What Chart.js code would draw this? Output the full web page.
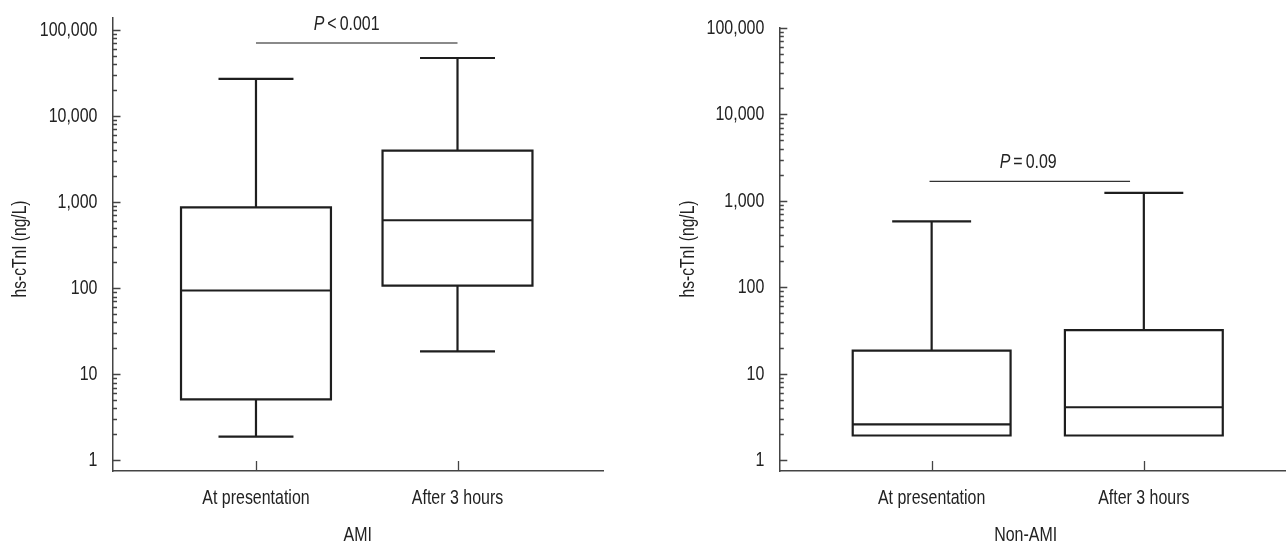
<!DOCTYPE html>
<html>
<head>
<meta charset="utf-8">
<script src="https://cdn.jsdelivr.net/npm/chart.js@4.4.1/dist/chart.umd.min.js"></script>
<style>
  html, body { margin: 0; padding: 0; background: #fff; }
  .panel { position: absolute; top: 0; height: 543px; }
  #leftWrap  { left: 0;     width: 640px; }
  #rightWrap { left: 640px; width: 646px; }
</style>
</head>
<body>
<div class="panel" id="leftWrap"><canvas id="amiChart"></canvas></div>
<div class="panel" id="rightWrap"><canvas id="nonAmiChart"></canvas></div>
<script>
// ─── Data ─────────────────────────────────────────────

const cats = ['At presentation', 'After 3 hours'];

// AMI (hs-cTnI, ng/L)
const amiMin = [1.88, 18.4];
const amiQ1  = [5.1, 107];
const amiMed = [94, 616];
const amiQ3  = [870, 3960];
const amiMax = [27100, 47300];

// Non-AMI
const nonMin = [1.93, 1.93];
const nonQ1  = [1.93, 1.93];
const nonMed = [2.6, 4.1];
const nonQ3  = [18.5, 32];
const nonMax = [578, 1240];

const majorTicks = [1, 10, 100, 1000, 10000, 100000];

// significance brackets: [from cat, to cat], line value, label baseline value, label
const amiSig = { span: [1, 2], at: 70800, textAt: 99300, textX: 1.45, label: ['P', '<', '0.001'] };
const nonSig = { span: [0.99, 1.935], at: 1680, textAt: 2400, textX: 1.455, label: ['P', '=', '0.09'] };

// ─── Style ────────────────────────────────────────────

const FONT = "'Liberation Sans', Arial, sans-serif";
const FSIZE = 21;
const SQUEEZE = 0.76;     // condensed look of the original type
const TEXT = '#222';
const INK = '#1e1e1e';
const AXIS = '#444';
const BOX_HALF = 0.372;   // half box width in x units
const CAP_HALF = 0.186;

Chart.defaults.font.family = FONT;

function condText(ctx, text, x, y, o = {}) {
  ctx.save();
  ctx.translate(x, y);
  if (o.rotate) ctx.rotate(o.rotate);
  ctx.scale(SQUEEZE, 1);
  ctx.font = (o.italic ? 'italic ' : '') + (o.size || FSIZE) + 'px ' + FONT;
  ctx.textAlign = o.align || 'center';
  ctx.textBaseline = o.baseline || 'alphabetic';
  ctx.fillStyle = o.color || TEXT;
  ctx.fillText(text, 0, 0);
  ctx.restore();
}

function condWidth(ctx, text, italic) {
  ctx.save();
  ctx.font = (italic ? 'italic ' : '') + FSIZE + 'px ' + FONT;
  const w = ctx.measureText(text).width * SQUEEZE;
  ctx.restore();
  return w;
}

// ─── Box plot plugin (draws from data through the scales) ─

const boxPlugin = {
  id: 'boxes',
  afterDatasetsDraw(chart, args, o) {
    const { ctx, scales: { x, y } } = chart;
    ctx.save();
    ctx.strokeStyle = INK;
    ctx.lineWidth = 2.2;
    cats.forEach((c, i) => {
      const v = i + 1;
      const cx = x.getPixelForValue(v);
      const l = x.getPixelForValue(v - BOX_HALF), r = x.getPixelForValue(v + BOX_HALF);
      const cl = x.getPixelForValue(v - CAP_HALF), cr = x.getPixelForValue(v + CAP_HALF);
      const pMin = y.getPixelForValue(o.min[i]), pQ1 = y.getPixelForValue(o.q1[i]);
      const pMed = y.getPixelForValue(o.med[i]), pQ3 = y.getPixelForValue(o.q3[i]);
      const pMax = y.getPixelForValue(o.max[i]);
      ctx.beginPath();
      ctx.moveTo(cx, pQ3); ctx.lineTo(cx, pMax);
      ctx.moveTo(cl, pMax); ctx.lineTo(cr, pMax);
      if (pMin - pQ1 > 0.5) {
        ctx.moveTo(cx, pQ1); ctx.lineTo(cx, pMin);
        ctx.moveTo(cl, pMin); ctx.lineTo(cr, pMin);
      }
      ctx.rect(l, pQ3, r - l, pQ1 - pQ3);
      ctx.moveTo(l, pMed); ctx.lineTo(r, pMed);
      ctx.stroke();
    });

    // significance bracket
    const s = o.sig;
    ctx.strokeStyle = s.color;
    ctx.lineWidth = s.width;
    const sy = y.getPixelForValue(s.at);
    ctx.beginPath();
    ctx.moveTo(x.getPixelForValue(s.span[0]), sy);
    ctx.lineTo(x.getPixelForValue(s.span[1]), sy);
    ctx.stroke();
    ctx.restore();

    const gap = 3;
    const widths = s.label.map((t, k) => condWidth(ctx, t, k === 0));
    const total = widths.reduce((a, b) => a + b, 0) + gap * (s.label.length - 1);
    let tx = x.getPixelForValue(s.textX) - total / 2;
    const ty = y.getPixelForValue(s.textAt);
    s.label.forEach((t, k) => {
      condText(ctx, t, tx, ty, { align: 'left', italic: k === 0 });
      tx += widths[k] + gap;
    });
  },
  afterDraw(chart, args, o) {
    const { ctx, chartArea, scales: { x, y } } = chart;
    // inward tick marks on both axes
    ctx.save();
    ctx.strokeStyle = AXIS;
    ctx.lineWidth = 1.3;
    ctx.beginPath();
    y.ticks.forEach(t => {
      const major = majorTicks.includes(t.value);
      const py = Math.round(y.getPixelForValue(t.value)) + 0.5;
      ctx.moveTo(chartArea.left, py);
      ctx.lineTo(chartArea.left + (major ? 8 : 4.5), py);
    });
    x.ticks.forEach(t => {
      const px = Math.round(x.getPixelForValue(t.value)) + 0.5;
      ctx.moveTo(px, chartArea.bottom);
      ctx.lineTo(px, chartArea.bottom - 10);
    });
    ctx.stroke();
    ctx.restore();

    // tick labels
    y.ticks.forEach(t => {
      if (!majorTicks.includes(t.value)) return;
      condText(ctx, t.value.toLocaleString('en-US'), chartArea.left - 15,
        y.getPixelForValue(t.value), { align: 'right', baseline: 'middle' });
    });
    x.ticks.forEach(t => {
      condText(ctx, cats[t.value - 1], x.getPixelForValue(t.value), chartArea.bottom + 33);
    });

    // axis titles
    condText(ctx, o.title, (chartArea.left + chartArea.right) / 2 + o.titleShift, 541);
    condText(ctx, 'hs-cTnI (ng/L)', chartArea.left - o.yTitleGap, 249,
      { rotate: -Math.PI / 2, size: 20.5 });
  }
};

// ─── Chart factory ────────────────────────────────────

function logTicks(min, max) {
  const out = [];
  majorTicks.forEach(p => {
    for (let d = 1; d <= 9; d++) {
      const v = p * d;
      if (v >= min && v <= max && (d === 1 || p < 100000)) out.push({ value: v });
    }
  });
  return out;
}

function makeChart(id, cfg) {
  new Chart(document.getElementById(id), {
    type: 'scatter',
    data: {
      datasets: [{ data: cfg.med.map((m, i) => ({ x: i + 1, y: m })), pointRadius: 0 }],
    },
    options: {
      responsive: true,
      maintainAspectRatio: false,
      animation: false,
      events: [],
      layout: { padding: { left: 0, right: cfg.padRight, top: cfg.padTop, bottom: 0 } },
      scales: {
        x: {
          type: 'linear',
          min: cfg.xMin,
          max: cfg.xMax,
          afterBuildTicks: s => { s.ticks = cats.map((c, i) => ({ value: i + 1 })); },
          afterFit: s => { s.height = 72; },
          grid: { display: false, drawTicks: false },
          border: { display: true, color: AXIS, width: 1.5 },
          ticks: { display: false },
        },
        y: {
          type: 'logarithmic',
          min: 0.75,
          max: cfg.yMax,
          afterBuildTicks: s => { s.ticks = logTicks(0.75, cfg.yMax); },
          afterFit: s => { s.width = cfg.yWidth; },
          grid: { display: false, drawTicks: false },
          border: { display: true, color: AXIS, width: 1.5 },
          ticks: { display: false },
        },
      },
      plugins: {
        legend: { display: false },
        tooltip: { enabled: false },
        boxes: {
          min: cfg.min, q1: cfg.q1, med: cfg.med, q3: cfg.q3, max: cfg.max, sig: cfg.sig,
          title: cfg.title, titleShift: cfg.titleShift, yTitleGap: cfg.yTitleGap,
        },
      },
    },
    plugins: [boxPlugin],
  });
}

makeChart('amiChart', {
  title: 'AMI', min: amiMin, q1: amiQ1, med: amiMed, q3: amiQ3, max: amiMax,
  sig: Object.assign({ color: '#8a8a8a', width: 2 }, amiSig),
  xMin: 0.288, xMax: 2.722, yMax: 138000,
  padRight: 37, padTop: 18, yWidth: 112.5, titleShift: 0, yTitleGap: 86.5,
});

makeChart('nonAmiChart', {
  title: 'Non-AMI', min: nonMin, q1: nonQ1, med: nonMed, q3: nonQ3, max: nonMax,
  sig: Object.assign({ color: '#333', width: 1.2 }, nonSig),
  xMin: 0.282, xMax: 2.67, yMax: 100000,
  padRight: 0, padTop: 28, yWidth: 139.3, titleShift: -7, yTitleGap: 85,
});
</script>
</body>
</html>
